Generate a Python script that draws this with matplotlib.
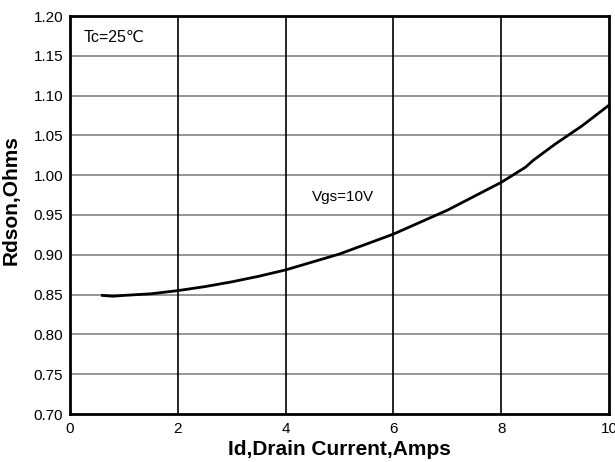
import numpy as np
import matplotlib.pyplot as plt

plt.rcParams['font.family'] = ['Liberation Sans', 'DejaVu Sans']

# Rdson vs drain current, Vgs=10V, Tc=25C
id_amps = [0.6, 0.8, 1.0, 1.5, 2.0, 2.5, 3.0, 3.5, 4.0, 5.0, 6.0, 7.0, 8.0, 8.45, 8.6, 9.0, 9.5, 10.0]
rdson = [0.849, 0.848, 0.849, 0.851, 0.855, 0.860, 0.866, 0.873, 0.881, 0.901, 0.926, 0.956, 0.991, 1.010, 1.019, 1.039, 1.062, 1.088]

x_ticks = [0, 2, 4, 6, 8, 10]
y_ticks = np.round(np.arange(0.70, 1.2001, 0.05), 2)

fig = plt.figure(figsize=(6.15, 4.62), dpi=100)
ax = fig.add_axes([70 / 615, 48 / 462, 539 / 615, 398 / 462])

# griglia: orizzontale grigia, verticale nera
for yv in y_ticks[1:-1]:
    ax.axhline(yv, color='#8c8c8c', lw=1.3, zorder=1)
for xv in x_ticks[1:-1]:
    ax.axvline(xv, color='black', lw=1.2, zorder=1)

ax.plot(id_amps, rdson, color='black', lw=2.0, zorder=3)

ax.set_xlim(0, 10)
ax.set_ylim(0.70, 1.20)
ax.set_xticks(x_ticks)
ax.set_yticks(y_ticks)
ax.set_yticklabels([f'{v:.2f}' for v in y_ticks])
ax.tick_params(axis='x', length=0, labelsize=11, pad=6)
ax.tick_params(axis='y', length=0, labelsize=11, pad=5)
for s in ax.spines.values():
    s.set_linewidth(2)

ax.set_xlabel('Id,Drain Current,Amps', fontsize=15, fontweight='bold')
ax.set_ylabel('Rdson,Ohms', fontsize=15, fontweight='bold')
ax.xaxis.set_label_coords(0.5, -0.065)
ax.yaxis.set_label_coords(-0.092, 0.538)

ax.text(0.25, 1.1736, 'Tc=25℃', fontsize=11.5, va='center', ha='left')
ax.text(4.49, 0.973, 'Vgs=10V', fontsize=11, va='center', ha='left')

plt.savefig('out.png', dpi=100)
